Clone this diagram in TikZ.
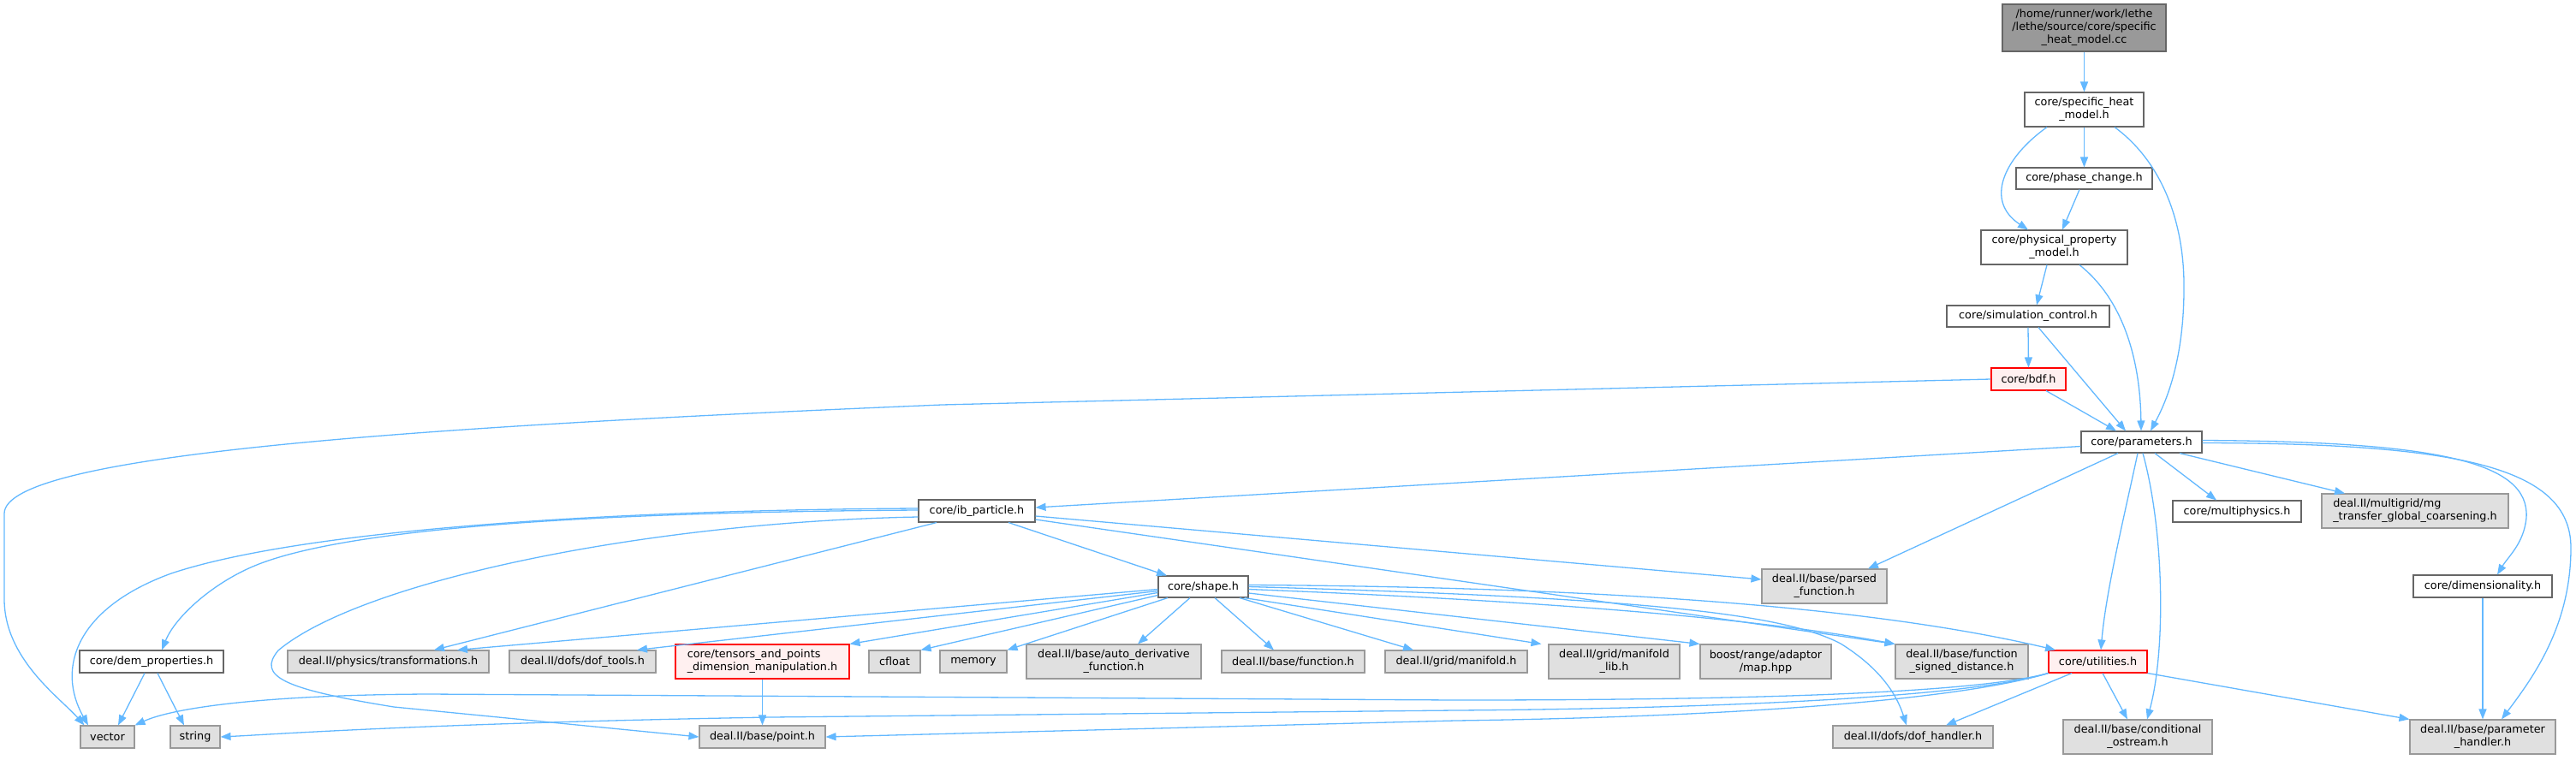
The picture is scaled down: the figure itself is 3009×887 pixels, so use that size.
\documentclass[tikz,border=0pt]{standalone}
\usepackage{fontspec}
\setmainfont{DejaVu Sans}
\usetikzlibrary{arrows.meta}
\definecolor{edgecol}{HTML}{63B8FF}
\definecolor{grey40}{HTML}{666666}
\definecolor{grey60}{HTML}{999999}
\definecolor{extfill}{HTML}{E0E0E0}
\definecolor{redfill}{HTML}{FFF0F0}
\begin{document}
\begin{tikzpicture}[x=1pt,y=-1pt,
  font=\fontsize{12.8}{15}\selectfont,
  box/.style={draw, line width=1.1pt, inner sep=0pt, align=center, text=black},
  wbox/.style={box, draw=grey40, fill=white},
  gbox/.style={box, draw=grey60, fill=extfill},
  rbox/.style={box, draw=red, fill=redfill},
  rootbox/.style={box, draw=grey40, fill=grey60},
  edge/.style={draw=edgecol, line width=1.3pt, -{Triangle[length=12pt,width=9pt]}}]
\useasboundingbox (0,0) rectangle (3009,887);

% nodes
\node[rootbox, minimum width=191, minimum height=55] (root) at (2434.5,32.5) {/home/runner/work/lethe\\/lethe/source/core/specific\\\_heat\_model.cc};
\node[wbox, minimum width=139, minimum height=40] (shm) at (2434.5,128) {core/specific\_heat\\\_model.h};
\node[wbox, minimum width=159, minimum height=25] (phase) at (2434.5,208.5) {core/phase\_change.h};
\node[wbox, minimum width=171, minimum height=40] (ppm) at (2399.5,289) {core/physical\_property\\\_model.h};
\node[wbox, minimum width=190, minimum height=25] (sim) at (2369,369.5) {core/simulation\_control.h};
\node[rbox, minimum width=87, minimum height=26] (bdf) at (2369.5,443) {core/bdf.h};
\node[wbox, minimum width=141, minimum height=25] (params) at (2501.5,516.5) {core/parameters.h};
\node[wbox, minimum width=136, minimum height=26] (ib) at (1141,597) {core/ib\_particle.h};
\node[wbox, minimum width=150, minimum height=25] (multi) at (2613,597.5) {core/multiphysics.h};
\node[gbox, minimum width=218, minimum height=40, align=left] (mg) at (2821,597) {deal.II/multigrid/mg\\\_transfer\_global\_coarsening.h};
\node[gbox, minimum width=146, minimum height=40] (parsed) at (2131,685) {deal.II/base/parsed\\\_function.h};
\node[wbox, minimum width=105, minimum height=25] (shape) at (1405.5,685.5) {core/shape.h};
\node[wbox, minimum width=162, minimum height=26] (dim) at (2900,685) {core/dimensionality.h};
\node[wbox, minimum width=168, minimum height=26] (dem) at (177,773) {core/dem\_properties.h};
\node[gbox, minimum width=235, minimum height=26] (transf) at (453.5,773) {deal.II/physics/transformations.h};
\node[gbox, minimum width=171, minimum height=26] (doftools) at (680.5,773) {deal.II/dofs/dof\_tools.h};
\node[rbox, minimum width=203, minimum height=40, align=left] (tensors) at (890.5,773) {core/tensors\_and\_points\\\_dimension\_manipulation.h};
\node[gbox, minimum width=60, minimum height=26] (cfloat) at (1045,773) {cfloat};
\node[gbox, minimum width=78, minimum height=26] (memory) at (1137,773) {memory};
\node[gbox, minimum width=204, minimum height=40] (autoder) at (1301,773) {deal.II/base/auto\_derivative\\\_function.h};
\node[gbox, minimum width=167, minimum height=26] (function) at (1510.5,773) {deal.II/base/function.h};
\node[gbox, minimum width=166, minimum height=26] (manifold) at (1701,773) {deal.II/grid/manifold.h};
\node[gbox, minimum width=153, minimum height=40] (manifoldlib) at (1885.5,773) {deal.II/grid/manifold\\\_lib.h};
\node[gbox, minimum width=153, minimum height=40] (boost) at (2062.5,773) {boost/range/adaptor\\/map.hpp};
\node[gbox, minimum width=155, minimum height=40] (fsd) at (2291.5,773) {deal.II/base/function\\\_signed\_distance.h};
\node[rbox, minimum width=115, minimum height=26] (util) at (2450.5,773) {core/utilities.h};
\node[gbox, minimum width=63, minimum height=26] (vector) at (125.5,861) {vector};
\node[gbox, minimum width=58, minimum height=26] (string) at (228,861) {string};
\node[gbox, minimum width=147, minimum height=26] (point) at (890.5,861) {deal.II/base/point.h};
\node[gbox, minimum width=187, minimum height=26] (dofh) at (2234.5,861) {deal.II/dofs/dof\_handler.h};
\node[gbox, minimum width=174, minimum height=40] (cond) at (2497,861) {deal.II/base/conditional\\\_ostream.h};
\node[gbox, minimum width=170, minimum height=40] (ph) at (2900,861) {deal.II/base/parameter\\\_handler.h};

% upper part
\draw[edge] (root.south) -- (shm.north);
\draw[edge] (shm.south) -- (phase.north);
\draw[edge] ([xshift=-43.5]shm.south) .. controls (2340,185) and (2318,235) .. ([xshift=-30.5]ppm.north);
\draw[edge] ([xshift=35.5]shm.south) .. controls (2520,185) and (2550,250) .. (2551,330) .. controls (2552,420) and (2530,470) .. ([xshift=10.5]params.north);
\draw[edge] ([xshift=-5.5]phase.south) -- ([xshift=9.5]ppm.north);
\draw[edge] ([xshift=-8.5]ppm.south) -- ([xshift=10]sim.north);
\draw[edge] ([xshift=29.5]ppm.south) .. controls (2480,350) and (2500,420) .. ([xshift=-0.5]params.north);
\draw[edge] (sim.south) -- (bdf.north);
\draw[edge] ([xshift=12]sim.south) -- ([xshift=-18.5]params.north);
\draw[edge] ([xshift=20.5]bdf.south) -- ([xshift=-29.5]params.north);
\draw[edge] (bdf.west) -- (1100,473) .. controls (500,498) and (5,530) .. (5,600) -- (5,700) .. controls (5,770) and (70,815) .. ([xshift=-27]vector.north);

% from parameters
\draw[edge] ([yshift=-5]params.west) -- ([yshift=4]ib.east);
\draw[edge] ([xshift=-27.5]params.south) -- ([xshift=51]parsed.north);
\draw[edge] ([xshift=-4.5]params.south) .. controls (2482,600) and (2460,690) .. ([xshift=3.5]util.north);
\draw[edge] ([xshift=1.5]params.south) .. controls (2528,620) and (2530,760) .. ([xshift=11]cond.north);
\draw[edge] ([xshift=15.5]params.south) -- ([xshift=-24]multi.north);
\draw[edge] ([xshift=44.5]params.south) -- ([xshift=-82]mg.north);
\draw[edge] ([yshift=2]params.east) .. controls (2850,516) and (2955,540) .. (2951,605) .. controls (2948,635) and (2930,650) .. ([xshift=17]dim.north);
\draw[edge] ([yshift=-1]params.east) .. controls (2870,518) and (3003,545) .. (3003,640) .. controls (3003,730) and (2960,790) .. ([xshift=22]ph.north);
\draw[edge] (dim.south) -- (ph.north);

% from utilities
\draw[edge] ([xshift=5.5]util.south) -- ([xshift=-12]cond.north);
\draw[edge] (util.south east) -- (ph.north west);
\draw[edge] ([xshift=-30.5]util.south) -- ([xshift=38.5]dofh.north);
\draw[edge] (util.south west) .. controls (2300,812) and (2000,818) .. (1700,818) -- (500,811) .. controls (300,812) and (200,828) .. (vector.north east);
\draw[edge] (util.south west) .. controls (2300,815) and (2000,828) .. (1700,830) -- (900,838) .. controls (500,845) and (320,858) .. (string.east);
\draw[edge] (util.south west) .. controls (2280,820) and (2000,838) .. (1700,842) -- (point.east);

% dem, tensors
\draw[edge] ([xshift=-8]dem.south) -- ([xshift=12.5]vector.north);
\draw[edge] ([xshift=7]dem.south) -- ([xshift=-13]string.north);
\draw[edge] (tensors.south) -- (point.north);

% from ib_particle
\draw[edge] ([yshift=1]ib.west) .. controls (750,598) and (420,612) .. (300,660) .. controls (250,680) and (205,720) .. ([xshift=12]dem.north);
\draw[edge] ([yshift=3]ib.west) .. controls (700,596) and (350,620) .. (200,670) .. controls (90,710) and (65,780) .. ([xshift=-22.5]vector.north);
\draw[edge] ([yshift=-7]ib.west) .. controls (750,610) and (420,680) .. (325,760) .. controls (300,790) and (330,805) .. (460,826) -- (point.west);
\draw[edge] ([xshift=-47]ib.south) -- ([xshift=53.5]transf.north);
\draw[edge] ([xshift=37]ib.south) -- ([xshift=-42.5]shape.north);
\draw[edge] ([yshift=-6]ib.east) -- ([yshift=8]parsed.west);
\draw[edge] ([yshift=-10]ib.east) -- (fsd.north west);

% from shape
\draw[edge] ([yshift=2]shape.east) .. controls (1900,686) and (2200,712) .. ([xshift=-49.5]util.north);
\draw[edge] ([yshift=-3]shape.east) .. controls (1800,702) and (2050,722) .. (fsd.north west);
\draw[edge] (shape.east) .. controls (1900,698) and (2080,715) .. (2150,752) .. controls (2195,780) and (2215,810) .. ([xshift=-7.5]dofh.north);
\draw[edge] ([yshift=-7.5]shape.east) -- (boost.north west);
\draw[edge] ([xshift=-5]shape.south east) -- ([xshift=-8]manifoldlib.north west);
\draw[edge] ([xshift=42.5]shape.south) -- ([xshift=-50]manifold.north);
\draw[edge] ([xshift=13.5]shape.south) -- ([xshift=-22.5]function.north);
\draw[edge] ([xshift=-15.5]shape.south) -- ([xshift=28]autoder.north);
\draw[edge] ([xshift=-41.5]shape.south) -- (memory.north east);
\draw[edge] ([yshift=-10]shape.west) -- (cfloat.north east);
\draw[edge] ([yshift=-7]shape.west) -- (tensors.north east);
\draw[edge] ([yshift=-5]shape.west) -- ([xshift=63.5]doftools.north);
\draw[edge] ([yshift=-3]shape.west) -- ([xshift=80.5]transf.north);
\end{tikzpicture}
\end{document}
